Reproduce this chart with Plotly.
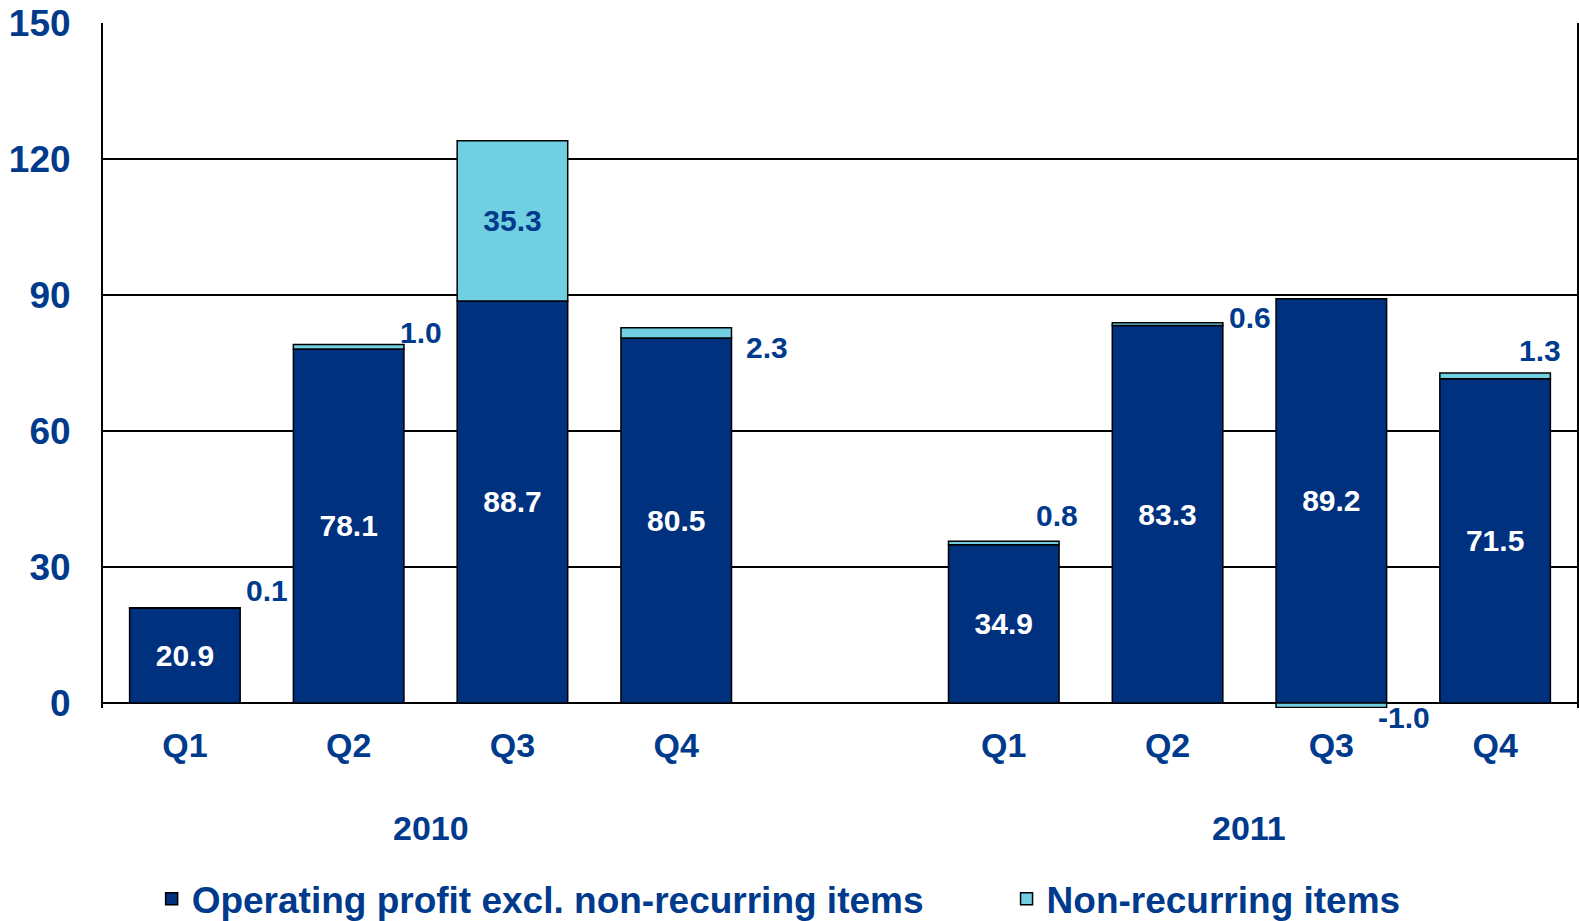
import plotly.graph_objects as go

# Quarters (x slots 0-3 for 2010, 5-8 for 2011; slot 4 left empty)
slots = [0, 1, 2, 3, 5, 6, 7, 8]
quarters = ["Q1", "Q2", "Q3", "Q4", "Q1", "Q2", "Q3", "Q4"]
years = ["2010", "2011"]
year_pos = [1.5, 6.5]

operating = [20.9, 78.1, 88.7, 80.5, 34.9, 83.3, 89.2, 71.5]
nonrecurring = [0.1, 1.0, 35.3, 2.3, 0.8, 0.6, -1.0, 1.3]

# where the small non-recurring labels sit relative to the top of each stack (px)
lab_dx = [82, 72, 0, 91, 53, 82, 73, 45]
lab_dy = [17, 12, 0, -20, 26, 5, -10, 22]

NAVY = "#00317F"
CYAN = "#70CFE1"
TXT = "#003A8C"
FONT = "Liberation Sans, Arial, sans-serif"

fig = go.Figure()
fig.add_trace(go.Bar(
    x=slots, y=operating, name="Operating profit excl. non-recurring items",
    marker=dict(color=NAVY, line=dict(color="black", width=1.5)),
    text=[f"{v:.1f}" for v in operating], textposition="inside",
    insidetextanchor="middle", textangle=0, constraintext="none",
    textfont=dict(family=FONT, size=30, color="white", weight="bold"),
    legend="legend2",
))
fig.add_trace(go.Bar(
    x=slots, y=nonrecurring, name="Non-recurring items",
    marker=dict(color=CYAN, line=dict(color="black", width=1.5)),
    text=[f"{v:.1f}" if abs(v) > 5 else "" for v in nonrecurring],
    textposition="inside", insidetextanchor="middle", textangle=0,
    constraintext="none",
    textfont=dict(family=FONT, size=30, color=TXT, weight="bold"),
    legend="legend3",
))

# labels for the thin non-recurring slices
for s, o, n, dx, dy in zip(slots, operating, nonrecurring, lab_dx, lab_dy):
    if abs(n) > 5:
        continue
    top = o + n if n > 0 else n
    fig.add_annotation(x=s, y=top, xref="x", yref="y", text=f"{n:.1f}",
                       showarrow=False, xshift=dx, yshift=dy,
                       font=dict(family=FONT, size=30, color=TXT, weight="bold"))

for yr, xp in zip(years, year_pos):
    fig.add_annotation(x=xp, y=-0.175, xref="x", yref="paper", text=yr,
                       showarrow=False, yanchor="middle",
                       font=dict(family=FONT, size=34, color=TXT, weight="bold"))

leg_style = dict(orientation="h", xanchor="left", y=-0.279, yanchor="middle",
                 font=dict(family=FONT, size=37, color=TXT, weight="bold"),
                 itemwidth=30, bgcolor="rgba(0,0,0,0)")

fig.update_layout(
    barmode="relative", bargap=0.325,
    width=1579, height=921,
    margin=dict(l=103, r=2, t=23, b=213, autoexpand=False),
    plot_bgcolor="white", paper_bgcolor="white",
    font=dict(family=FONT, color=TXT),
    legend2=dict(x=0.033, **leg_style),
    legend3=dict(x=0.613, **leg_style),
)
fig.update_xaxes(range=[-0.5, 8.5], tickvals=slots, ticktext=quarters,
                 showgrid=False, showline=False, zeroline=False,
                 ticks="", ticklabelstandoff=14, automargin=False,
                 tickfont=dict(family=FONT, size=34, color=TXT, weight="bold"))
fig.update_yaxes(range=[-1.1, 150], tickvals=[0, 30, 60, 90, 120, 150],
                 showgrid=True, gridcolor="black", gridwidth=1.5,
                 zeroline=True, zerolinecolor="black", zerolinewidth=2,
                 showline=True, linecolor="black", linewidth=2, mirror=True,
                 ticks="", ticklabelstandoff=23, automargin=False,
                 tickfont=dict(family=FONT, size=37, color=TXT, weight="bold"))

fig.write_html("out.html", config={"displayModeBar": False},
               post_script="document.body.style.margin='0';")
